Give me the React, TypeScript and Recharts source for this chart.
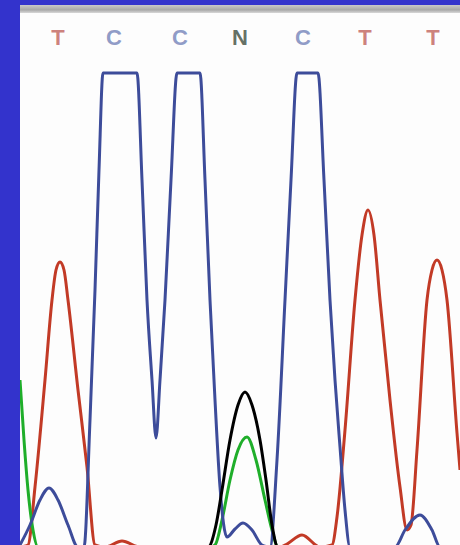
import { LineChart, Line, XAxis, YAxis } from 'recharts';

// base calls printed above the trace (scan position, letter)
const callPos = [58, 114, 180, 240, 303, 365, 433];
const callBase = ['T', 'C', 'C', 'N', 'C', 'T', 'T'];

const baseColor: Record<string, string> = {
  T: '#c0605a',
  C: '#7282b8',
  N: '#3c4a3c',
  G: '#3c4a3c',
  A: '#40a040',
};

// trace samples: [scan, intensity]; C trace is clipped at 474
const traceC: [number, number][] = [
  [20, 2], [30, 22], [40, 47], [49, 59], [58, 47], [68, 22], [78, 0], [84, 0],
  [90, 127], [95, 257], [99, 377], [103, 474], [137, 474], [142, 367], [147, 247],
  [152, 167], [156, 109], [160, 167], [165, 247], [171, 367], [177, 474], [200, 474],
  [205, 367], [210, 247], [215, 147], [220, 60], [227, 10], [235, 18], [243, 24],
  [252, 17], [262, 2], [270, 0], [277, 87], [285, 247], [291, 367], [297, 474],
  [318, 474], [324, 367], [330, 247], [335, 167], [340, 100], [345, 37], [350, 0],
  [395, 0], [405, 17], [420, 32], [432, 17], [440, 0], [460, 0],
];

const traceT: [number, number][] = [
  [20, 0], [28, 2], [35, 60], [45, 167], [52, 247], [56, 277], [60, 285], [64, 277],
  [68, 247], [78, 157], [87, 80], [95, 2], [105, 0], [122, 6], [140, 0], [280, 0],
  [287, 3], [302, 12], [320, 0], [332, 2], [337, 30], [345, 117], [355, 247],
  [362, 312], [368, 337], [374, 312], [380, 247], [390, 147], [400, 60], [407, 17],
  [411, 22], [417, 97], [427, 247], [432, 277], [437, 287], [442, 277], [447, 247],
  [457, 114], [460, 77],
];

const traceA: [number, number][] = [
  [20, 167], [24, 107], [28, 57], [33, 17], [38, 0], [210, 0], [215, 2], [222, 27],
  [230, 67], [238, 97], [247, 110], [256, 87], [265, 47], [272, 17], [278, 0], [460, 0],
];

const traceG: [number, number][] = [
  [20, 0], [208, 0], [216, 22], [222, 57], [230, 107], [238, 142], [245, 155],
  [252, 142], [260, 107], [266, 67], [272, 22], [278, 0], [460, 0],
];

const toRows = (t: [number, number][]) => t.map(([scan, v]) => ({ scan, v }));

const traceColor = {
  A: '#1fae2a',
  C: '#3d4c9a',
  G: '#000000',
  T: '#c23a26',
};

function CallTick(props: any) {
  const { x, y, payload } = props;
  const i = callPos.indexOf(payload.value);
  const b = callBase[i] ?? '';
  return (
    <text
      x={x}
      y={y}
      dy={-7}
      textAnchor="middle"
      fill={baseColor[b]}
      fillOpacity={0.8}
      fontFamily="'Liberation Sans', Arial, sans-serif"
      fontWeight="bold"
      fontSize={22}
    >
      {b}
    </text>
  );
}

export default function App() {
  return (
    <div
      style={{
        position: 'fixed',
        left: 0,
        top: 0,
        width: 460,
        height: 545,
        overflow: 'hidden',
        background: '#3333cc',
      }}
    >
      <div style={{ position: 'absolute', left: 20, top: 5, width: 440, height: 545, background: '#fdfdfd' }} />
      <div
        style={{
          position: 'absolute',
          left: 20,
          top: 5,
          width: 440,
          height: 8,
          background: 'linear-gradient(#c8c8c8, #a8a8a8 60%, #d8d8d8)',
        }}
      />
      <div style={{ position: 'absolute', left: 20, top: 5 }}>
        <LineChart width={440} height={542} margin={{ top: 0, right: 0, bottom: 0, left: 0 }}>
          <XAxis
            xAxisId={0}
            dataKey="scan"
            type="number"
            domain={[20, 460]}
            orientation="top"
            height={55}
            ticks={callPos}
            tick={<CallTick />}
            axisLine={false}
            tickLine={false}
            allowDataOverflow
          />
          <YAxis type="number" domain={[0, 487]} hide allowDataOverflow />
          <Line data={toRows(traceT)} dataKey="v" type="monotone" stroke={traceColor.T} strokeWidth={3} dot={false} isAnimationActive={false} />
          <Line data={toRows(traceA)} dataKey="v" type="monotone" stroke={traceColor.A} strokeWidth={3} dot={false} isAnimationActive={false} />
          <Line data={toRows(traceC)} dataKey="v" type="monotone" stroke={traceColor.C} strokeWidth={3} dot={false} isAnimationActive={false} />
          <Line data={toRows(traceG)} dataKey="v" type="monotone" stroke={traceColor.G} strokeWidth={3} dot={false} isAnimationActive={false} />
        </LineChart>
      </div>
    </div>
  );
}
